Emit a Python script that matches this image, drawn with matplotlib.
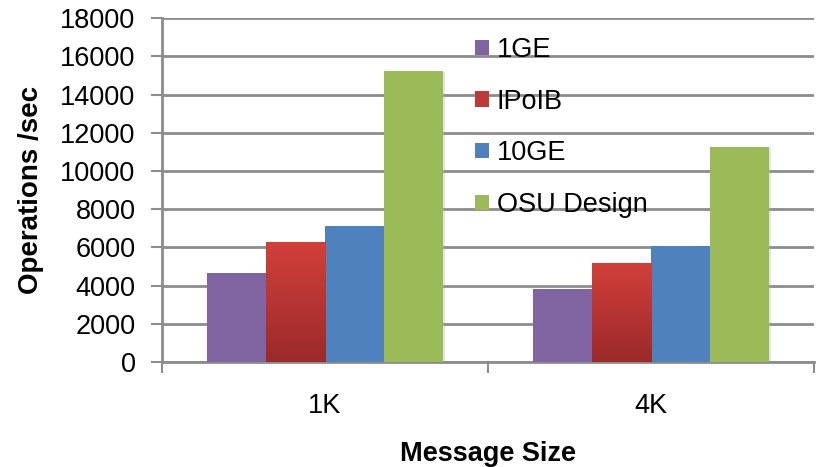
import numpy as np
import matplotlib.pyplot as plt
from matplotlib.colors import LinearSegmentedColormap
from matplotlib.patches import Rectangle

plt.rcParams['font.family'] = ['Liberation Sans', 'DejaVu Sans']

# Throughput per message size
sizes = ['1K', '4K']
series = ['1GE', 'IPoIB', '10GE', 'OSU Design']
ops_1ge = [4650, 3850]
ops_ipoib = [6300, 5200]
ops_10ge = [7100, 6100]
ops_osu = [15250, 11250]

colors = ['#8064A2', '#C0393A', '#4F81BD', '#9BBB59']
red_grad = LinearSegmentedColormap.from_list('redgrad', ['#9B2A2A', '#D2403B'])

fig = plt.figure(figsize=(8.19, 4.67), dpi=100)
ax = fig.add_axes([0.1978, 0.2248, 0.7961, 0.736])

x = np.arange(len(sizes))
width = 0.1816
values = [ops_1ge, ops_ipoib, ops_10ge, ops_osu]

for i, (name, vals) in enumerate(zip(series, values)):
    pos = x + (i - 1.5) * width
    # soft shadow behind each bar
    for xp, v in zip(pos, vals):
        ax.add_patch(Rectangle((xp - width / 2 + 0.006, -60), width, v,
                               facecolor='#b0b0b0', edgecolor='none',
                               alpha=0.35, zorder=2))
    bars = ax.bar(pos, vals, width, color=colors[i], label=name, zorder=3)
    if name == 'IPoIB':
        grad = np.linspace(0, 1, 256).reshape(-1, 1)
        for b in bars:
            bx, by = b.get_x(), b.get_y()
            im = ax.imshow(grad, cmap=red_grad, origin='lower', aspect='auto',
                           extent=(bx, bx + b.get_width(), by, by + b.get_height()),
                           zorder=3.5)
            im.set_clip_path(b)

ax.set_xlim(-0.5, 1.5)
ax.set_ylim(0, 18000)
ax.set_yticks(np.arange(0, 18001, 2000))
ax.set_xticks(x)
ax.set_xticklabels(sizes)
ax.set_xticks([-0.5, 0.5, 1.5], minor=True)

ax.yaxis.grid(True, color='#8c8c8c', linewidth=2, zorder=0)
ax.set_axisbelow(True)
for s in ['top', 'right']:
    ax.spines[s].set_visible(False)
for s in ['left', 'bottom']:
    ax.spines[s].set_color('#8c8c8c')
    ax.spines[s].set_linewidth(2)

ax.tick_params(axis='y', length=8, width=1.5, color='#8c8c8c', labelsize=19.5, pad=11)
ax.tick_params(axis='x', which='major', length=0, labelsize=19.5, pad=22)
ax.tick_params(axis='x', which='minor', length=8, width=1.5, color='#8c8c8c')

ax.set_ylabel('Operations /sec', fontsize=20, fontweight='bold', labelpad=12)
ax.set_xlabel('Message Size', fontsize=19.5, fontweight='bold', labelpad=16)

ax.legend(loc='upper left', bbox_to_anchor=(0.5635, 0.95), bbox_transform=fig.transFigure,
          frameon=False, fontsize=19.5, handlelength=0.5, handleheight=0.5,
          handletextpad=0.3, labelspacing=0.95, borderpad=0)

fig.savefig('out.png', dpi=100)
